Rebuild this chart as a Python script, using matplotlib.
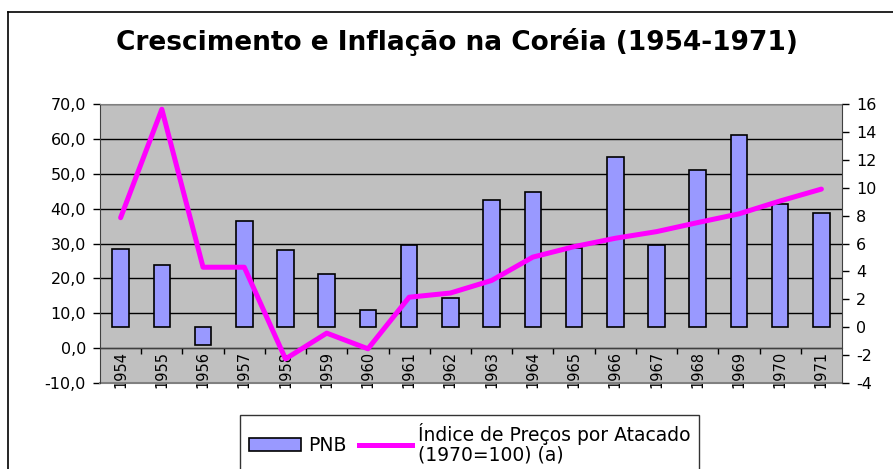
import numpy as np
import matplotlib
matplotlib.use("Agg")
import matplotlib.pyplot as plt
from matplotlib.lines import Line2D
from matplotlib.patches import Patch
from matplotlib.ticker import FuncFormatter, FixedLocator

plt.rcParams['font.family'] = ['DejaVu Sans']
plt.rcParams['axes.unicode_minus'] = False

# =========================
# DONNÉES
# =========================

anos = ["1954", "1955", "1956", "1957", "1958", "1959", "1960", "1961", "1962",
        "1963", "1964", "1965", "1966", "1967", "1968", "1969", "1970", "1971"]

# PNB (eixo direito)
pnb = [5.6, 4.45, -1.3, 7.6, 5.5, 3.8, 1.2, 5.9, 2.1,
       9.1, 9.7, 5.7, 12.2, 5.9, 11.3, 13.8, 8.8, 8.2]

# Índice de preços por atacado (eixo esquerdo)
precos = [37.4, 68.5, 23.2, 23.2, -3.1, 4.3, -0.2, 14.6, 15.8,
          19.4, 26.1, 29.1, 31.5, 33.4, 36.0, 38.5, 42.2, 45.6]

titulo = "Crescimento e Inflação na Coréia (1954-1971)"
rotulo_pnb = "PNB"
rotulo_precos = "Índice de Preços por Atacado\n(1970=100) (a)"

# =========================
# FIGURA
# =========================

W, H = 893, 469
fig = plt.figure(figsize=(W / 100, H / 100), dpi=100)

x0, x1, y0, y1 = 100, 842, 104, 383
ax = fig.add_axes([x0 / W, 1 - y1 / H, (x1 - x0) / W, (y1 - y0) / H])
ax2 = ax.twinx()
ax3 = ax.twinx()

x = np.arange(len(anos))

# eixo esquerdo: fundo, grade, categorias
ax.set_facecolor("#C0C0C0")
ax.set_ylim(-10, 70)
ax.set_xlim(-0.5, len(anos) - 0.5)
ax.yaxis.set_major_locator(FixedLocator(np.arange(-10, 71, 10)))
ax.yaxis.set_major_formatter(FuncFormatter(lambda v, p: f"{v:.1f}".replace(".", ",")))
ax.grid(axis="y", color="black", linewidth=1)
ax.set_axisbelow(True)
ax.tick_params(axis="y", direction="out", length=5, width=1, pad=5, labelsize=11.5)

ax.spines["bottom"].set_position(("data", 0))
ax.spines["bottom"].set_color("#404040")
ax.spines["top"].set_color("#808080")
ax.spines["left"].set_color("#404040")
ax.spines["right"].set_visible(False)
ax.axhline(-10, color="#808080", linewidth=1.5, clip_on=False, zorder=1)

ax.xaxis.set_major_locator(FixedLocator(np.arange(0.5, len(anos) - 1, 1)))
ax.xaxis.set_major_formatter(FuncFormatter(lambda v, p: ""))
ax.xaxis.set_minor_locator(FixedLocator(x))
ax.set_xticklabels(anos, minor=True, rotation=90, fontsize=10.5)
ax.tick_params(axis="x", which="major", direction="out", length=4, width=1)
ax.tick_params(axis="x", which="minor", length=0, pad=2)

# eixo direito: PNB em barras
ax2.bar(x, pnb, width=0.4, color="#9999FF", edgecolor="black", linewidth=1.2, zorder=3)
ax2.set_ylim(-4, 16)
ax2.yaxis.set_major_locator(FixedLocator(np.arange(-4, 17, 2)))
ax2.yaxis.set_major_formatter(FuncFormatter(lambda v, p: f"{int(v)}"))
ax2.tick_params(axis="y", direction="out", length=5, width=1, pad=5, labelsize=11.5)
for s in ["top", "bottom", "left"]:
    ax2.spines[s].set_visible(False)
ax2.spines["right"].set_color("#404040")

# linha de preços por cima
ax3.plot(x, precos, color="#FF00FF", linewidth=3.6, solid_capstyle="round")
ax3.set_ylim(-10, 70)
ax3.axis("off")

fig.text(0.512, 1 - 42 / H, titulo, ha="center", va="center",
         fontsize=19, fontweight="bold")

handles = [Patch(facecolor="#9999FF", edgecolor="black", linewidth=1.2),
           Line2D([0], [0], color="#FF00FF", linewidth=3.6)]
leg = fig.legend(handles, [rotulo_pnb, rotulo_precos], ncol=2,
                 loc="upper center", bbox_to_anchor=(0.526, 1 - 415 / H),
                 fontsize=13.5, frameon=True, fancybox=False, edgecolor="black",
                 handlelength=2.8, handletextpad=0.35, columnspacing=0.7,
                 borderpad=0.45, borderaxespad=0, labelspacing=0.2)
leg.get_frame().set_linewidth(1)
for t in leg.get_texts():
    t.set_linespacing(1.0)

# moldura externa
fig.add_artist(Line2D([8 / W, 8 / W], [0, 1 - 12 / H], color="black", linewidth=1.2))
fig.add_artist(Line2D([8 / W, 1], [1 - 12 / H, 1 - 12 / H], color="black", linewidth=1.2))

fig.savefig("out.png", dpi=100)
